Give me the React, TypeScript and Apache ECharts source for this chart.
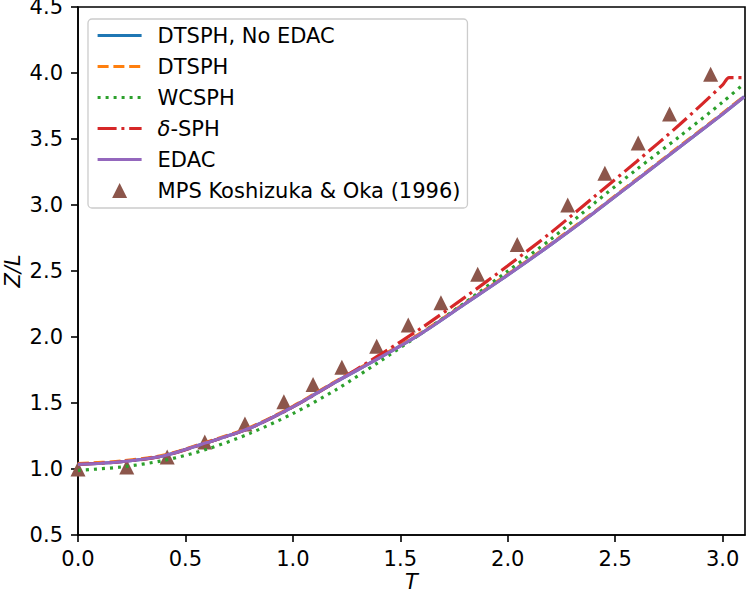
import React, { useEffect, useRef } from "react";
import * as echarts from "echarts";

// Time samples (T) for the simulated free-surface front curves
const tSamples = [0, 0.2, 0.4, 0.6, 0.8, 1.0, 1.2, 1.4, 1.6, 1.8, 2.0, 2.2, 2.4, 2.6, 2.8, 3.0, 3.1];

// Z/L of the surge front for each scheme
const dtsphNoEdac = [1.035, 1.055, 1.1, 1.2, 1.31, 1.47, 1.66, 1.84, 2.03, 2.25, 2.47, 2.7, 2.94, 3.19, 3.44, 3.69, 3.82];
const dtsph = [1.04, 1.06, 1.105, 1.205, 1.315, 1.475, 1.665, 1.845, 2.035, 2.255, 2.475, 2.705, 2.945, 3.195, 3.445, 3.695, 3.825];
const wcsph = [0.99, 1.015, 1.065, 1.15, 1.27, 1.42, 1.6, 1.81, 2.03, 2.26, 2.5, 2.74, 3.01, 3.27, 3.52, 3.78, 3.92];
const edac = [1.035, 1.055, 1.1, 1.2, 1.31, 1.47, 1.66, 1.84, 2.03, 2.25, 2.47, 2.7, 2.94, 3.19, 3.44, 3.69, 3.82];

// delta-SPH has its own samples (flattens at the wall)
const deltaT = [0, 0.2, 0.4, 0.6, 0.8, 1.0, 1.2, 1.4, 1.6, 1.8, 2.0, 2.2, 2.4, 2.6, 2.8, 3.0, 3.03, 3.1];
const deltaSph = [1.035, 1.055, 1.1, 1.2, 1.31, 1.47, 1.66, 1.86, 2.07, 2.3, 2.54, 2.79, 3.06, 3.33, 3.61, 3.91, 3.965, 3.965];

// Reference MPS points
const mpsT = [0, 0.227, 0.415, 0.59, 0.777, 0.958, 1.094, 1.228, 1.39, 1.537, 1.689, 1.86, 2.044, 2.279, 2.452, 2.607, 2.753, 2.944];
const mpsZ = [1.0, 1.015, 1.09, 1.205, 1.34, 1.51, 1.64, 1.77, 1.93, 2.09, 2.26, 2.475, 2.7, 3.0, 3.24, 3.47, 3.69, 3.99];

const xTicks = [0, 0.5, 1.0, 1.5, 2.0, 2.5, 3.0];

const FONT = "DejaVu Sans";
const FS = 21;
const LW = 3.2;

// Upward triangle used for the legend marker (kept square inside the icon box)
const TRIANGLE_ICON = "path://M0,2L1,0L2,2Z";

const pairs = (xs: number[], ys: number[]) => xs.map((x, i) => [x, ys[i]]);

export default function App() {
  const ref = useRef<HTMLDivElement>(null);

  useEffect(() => {
    if (!ref.current) return;
    const chart = echarts.init(ref.current, undefined, { renderer: "svg" });

    const lineBase = {
      type: "line" as const,
      symbol: "none",
      smooth: 0.3,
      silent: true,
    };

    const hiddenSymbol = { itemStyle: { opacity: 0 } };

    chart.setOption({
      animation: false,
      backgroundColor: "#fff",
      textStyle: { fontFamily: FONT },
      grid: {
        left: 78,
        right: 5,
        top: 7,
        bottom: 65,
        outerBoundsMode: "none",
        containLabel: false,
        show: true,
        borderColor: "#000",
        borderWidth: 1.6,
        backgroundColor: "transparent",
      },
      legend: {
        orient: "vertical",
        left: 88,
        top: 19,
        padding: [6, 7, 7, 8],
        itemWidth: 44,
        itemHeight: 15,
        itemGap: 10,
        symbolKeepAspect: true,
        borderColor: "#cccccc",
        borderWidth: 1.3,
        borderRadius: 4,
        backgroundColor: "rgba(255,255,255,0.8)",
        lineStyle: { width: LW },
        textStyle: {
          fontFamily: FONT,
          fontSize: FS,
          lineHeight: FS,
          color: "#000",
          padding: [0, 0, 0, 11],
          rich: {
            i: { fontStyle: "italic", fontFamily: FONT, fontSize: FS, color: "#000" },
          },
        },
        formatter: (name: string) => (name === "δ-SPH" ? "{i|δ}-SPH" : name),
        data: [
          { name: "DTSPH, No EDAC", ...hiddenSymbol },
          { name: "DTSPH", ...hiddenSymbol },
          { name: "WCSPH", ...hiddenSymbol },
          { name: "δ-SPH", ...hiddenSymbol },
          { name: "EDAC", ...hiddenSymbol },
          { name: "MPS Koshizuka & Oka (1996)", icon: TRIANGLE_ICON },
        ],
      },
      xAxis: {
        type: "value",
        min: 0,
        max: 3.104,
        interval: 0.5,
        name: "T",
        nameLocation: "middle",
        nameGap: 36,
        nameMoveOverlap: false,
        nameTextStyle: { fontFamily: FONT, fontSize: FS, fontStyle: "italic", color: "#000" },
        axisLine: { show: true, lineStyle: { color: "#000", width: 1.6 } },
        axisTick: { show: true, inside: false, length: 7, lineStyle: { color: "#000", width: 1.6 }, customValues: xTicks },
        axisLabel: {
          fontFamily: FONT,
          fontSize: FS,
          color: "#000",
          margin: 13,
          customValues: xTicks,
          formatter: (v: number) => v.toFixed(1),
        },
        splitLine: { show: false },
      },
      yAxis: {
        type: "value",
        min: 0.5,
        max: 4.5,
        interval: 0.5,
        name: "Z/L",
        nameLocation: "middle",
        nameRotate: 90,
        nameGap: 55,
        nameMoveOverlap: false,
        nameTextStyle: { fontFamily: FONT, fontSize: FS, fontStyle: "italic", color: "#000" },
        axisLine: { show: true, lineStyle: { color: "#000", width: 1.6 } },
        axisTick: { show: true, inside: false, length: 7, lineStyle: { color: "#000", width: 1.6 } },
        axisLabel: {
          fontFamily: FONT,
          fontSize: FS,
          color: "#000",
          margin: 15,
          formatter: (v: number) => v.toFixed(1),
        },
        splitLine: { show: false },
      },
      series: [
        {
          ...lineBase,
          name: "DTSPH, No EDAC",
          data: pairs(tSamples, dtsphNoEdac),
          color: "#1f77b4",
          lineStyle: { color: "#1f77b4", width: LW },
        },
        {
          ...lineBase,
          name: "DTSPH",
          data: pairs(tSamples, dtsph),
          color: "#ff7f0e",
          lineStyle: { color: "#ff7f0e", width: LW, type: [11, 4.8] },
        },
        {
          ...lineBase,
          name: "WCSPH",
          data: pairs(tSamples, wcsph),
          color: "#2ca02c",
          lineStyle: { color: "#2ca02c", width: LW, type: [3, 5] },
        },
        {
          ...lineBase,
          name: "δ-SPH",
          data: pairs(deltaT, deltaSph),
          color: "#d62728",
          lineStyle: { color: "#d62728", width: LW, type: [19, 4.8, 3, 4.8] },
        },
        {
          ...lineBase,
          name: "EDAC",
          data: pairs(tSamples, edac),
          color: "#9467bd",
          lineStyle: { color: "#9467bd", width: LW },
        },
        {
          type: "scatter",
          name: "MPS Koshizuka & Oka (1996)",
          data: pairs(mpsT, mpsZ),
          symbol: "triangle",
          symbolSize: 15,
          color: "#8c564b",
          itemStyle: { color: "#8c564b", opacity: 1 },
          silent: true,
        },
      ],
    });

    return () => chart.dispose();
  }, []);

  return (
    <div
      ref={ref}
      style={{ position: "fixed", left: 0, top: 0, width: 750, height: 600, background: "#fff" }}
    />
  );
}
